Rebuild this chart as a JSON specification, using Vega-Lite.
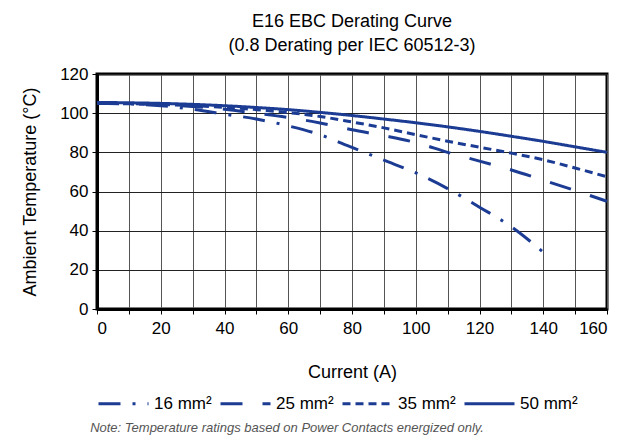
{
  "$schema": "https://vega.github.io/schema/vega-lite/v6.json",
  "padding": {"left": 20, "top": 11, "right": 10, "bottom": 5},
  "title": {"text": "Note: Temperature ratings based on Power Contacts energized only.", "orient": "bottom", "anchor": "start", "dx": 70, "fontSize": 13, "fontStyle": "italic", "fontWeight": "normal", "color": "#555555", "font": "Liberation Sans", "offset": 10},
  "config": {
    "font": "Liberation Sans",
    "view": {"stroke": "#000000", "strokeWidth": 3}
  },
  "vconcat": [
    {
      "width": 510,
      "height": 235,
      "title": {"text": ["E16 EBC Derating Curve", "(0.8 Derating per IEC 60512-3)"], "fontSize": 18, "fontWeight": "normal", "lineHeight": 24, "color": "#000000", "offset": 10},
      "data": {"values": [
        {"series": "50 mm²", "current": 0, "temp": 105.5},
        {"series": "50 mm²", "current": 10, "temp": 105.3},
        {"series": "50 mm²", "current": 20, "temp": 105},
        {"series": "50 mm²", "current": 30, "temp": 104.5},
        {"series": "50 mm²", "current": 40, "temp": 103.8},
        {"series": "50 mm²", "current": 50, "temp": 102.9},
        {"series": "50 mm²", "current": 60, "temp": 101.8},
        {"series": "50 mm²", "current": 70, "temp": 100.4},
        {"series": "50 mm²", "current": 80, "temp": 98.8},
        {"series": "50 mm²", "current": 90, "temp": 97},
        {"series": "50 mm²", "current": 100, "temp": 95.1},
        {"series": "50 mm²", "current": 110, "temp": 93},
        {"series": "50 mm²", "current": 120, "temp": 90.7},
        {"series": "50 mm²", "current": 130, "temp": 88.2},
        {"series": "50 mm²", "current": 140, "temp": 85.6},
        {"series": "50 mm²", "current": 150, "temp": 82.8},
        {"series": "50 mm²", "current": 160, "temp": 80},
        {"series": "35 mm²", "current": 0, "temp": 105},
        {"series": "35 mm²", "current": 10, "temp": 104.8},
        {"series": "35 mm²", "current": 20, "temp": 104.5},
        {"series": "35 mm²", "current": 30, "temp": 103.8},
        {"series": "35 mm²", "current": 40, "temp": 103},
        {"series": "35 mm²", "current": 50, "temp": 101.8},
        {"series": "35 mm²", "current": 60, "temp": 100.3},
        {"series": "35 mm²", "current": 70, "temp": 98.3},
        {"series": "35 mm²", "current": 80, "temp": 95.5},
        {"series": "35 mm²", "current": 90, "temp": 92.5},
        {"series": "35 mm²", "current": 100, "temp": 89},
        {"series": "35 mm²", "current": 110, "temp": 85.7},
        {"series": "35 mm²", "current": 120, "temp": 82.6},
        {"series": "35 mm²", "current": 130, "temp": 79.6},
        {"series": "35 mm²", "current": 140, "temp": 76.2},
        {"series": "35 mm²", "current": 150, "temp": 72},
        {"series": "35 mm²", "current": 160, "temp": 67.5},
        {"series": "25 mm²", "current": 0, "temp": 105},
        {"series": "25 mm²", "current": 10, "temp": 104.8},
        {"series": "25 mm²", "current": 20, "temp": 104.3},
        {"series": "25 mm²", "current": 30, "temp": 103.4},
        {"series": "25 mm²", "current": 40, "temp": 102},
        {"series": "25 mm²", "current": 50, "temp": 100},
        {"series": "25 mm²", "current": 60, "temp": 97.8},
        {"series": "25 mm²", "current": 70, "temp": 95},
        {"series": "25 mm²", "current": 80, "temp": 91.5},
        {"series": "25 mm²", "current": 90, "temp": 88.5},
        {"series": "25 mm²", "current": 100, "temp": 85},
        {"series": "25 mm²", "current": 110, "temp": 80},
        {"series": "25 mm²", "current": 120, "temp": 75.5},
        {"series": "25 mm²", "current": 130, "temp": 71},
        {"series": "25 mm²", "current": 140, "temp": 65.8},
        {"series": "25 mm²", "current": 150, "temp": 60.5},
        {"series": "25 mm²", "current": 160, "temp": 55},
        {"series": "16 mm²", "current": 0, "temp": 105},
        {"series": "16 mm²", "current": 10, "temp": 104.7},
        {"series": "16 mm²", "current": 20, "temp": 103.8},
        {"series": "16 mm²", "current": 30, "temp": 102},
        {"series": "16 mm²", "current": 40, "temp": 99.5},
        {"series": "16 mm²", "current": 50, "temp": 97},
        {"series": "16 mm²", "current": 60, "temp": 93.5},
        {"series": "16 mm²", "current": 70, "temp": 89},
        {"series": "16 mm²", "current": 80, "temp": 82.5},
        {"series": "16 mm²", "current": 90, "temp": 76},
        {"series": "16 mm²", "current": 100, "temp": 69.5},
        {"series": "16 mm²", "current": 110, "temp": 61.5},
        {"series": "16 mm²", "current": 120, "temp": 52},
        {"series": "16 mm²", "current": 130, "temp": 42},
        {"series": "16 mm²", "current": 140, "temp": 29}
      ]},
      "mark": {"type": "line", "color": "#1c3c94", "strokeWidth": 3, "interpolate": "monotone"},
      "encoding": {
        "x": {"field": "current", "type": "quantitative", "title": "Current (A)",
          "scale": {"domain": [0, 160], "nice": false},
          "axis": {"values": [0,10,20,30,40,50,60,70,80,90,100,110,120,130,140,150,160],
            "labelExpr": "datum.value % 20 === 0 ? datum.label : ''",
            "labelFontSize": 17, "labelColor": "#000000", "labelPadding": 6,
            "titleFontSize": 18, "titleFontWeight": "normal", "titleColor": "#000000", "titlePadding": 27,
            "gridColor": "#555555", "gridOpacity": 1, "gridWidth": 1,
            "tickColor": "#000000", "tickSize": 5,
            "domainColor": "#000000", "domainWidth": 3}},
        "y": {"field": "temp", "type": "quantitative", "title": "Ambient Temperature (°C)",
          "scale": {"domain": [0, 120], "nice": false},
          "axis": {"values": [0,20,40,60,80,100,120],
            "labelFontSize": 17, "labelColor": "#000000", "labelPadding": 4,
            "titleFontSize": 18, "titleFontWeight": "normal", "titleColor": "#000000", "titlePadding": 20,
            "gridColor": "#222222", "gridOpacity": 1, "gridWidth": 1,
            "tickColor": "#000000", "tickSize": 5,
            "domainColor": "#000000", "domainWidth": 3}},
        "strokeDash": {"field": "series", "type": "nominal",
          "scale": {"domain": ["16 mm²", "25 mm²", "35 mm²", "50 mm²"], "range": [[22, 12, 3, 12], [22, 20], [8, 5], [1, 0]]},
          "legend": {"title": null, "orient": "bottom", "direction": "horizontal",
            "symbolType": "stroke", "symbolSize": 2500, "symbolStrokeWidth": 3, "symbolStrokeColor": "#1c3c94",
            "labelFontSize": 17, "labelColor": "#000000", "columnPadding": 2, "labelOffset": 4, "offset": -6}}
      }
    }
  ]
}
